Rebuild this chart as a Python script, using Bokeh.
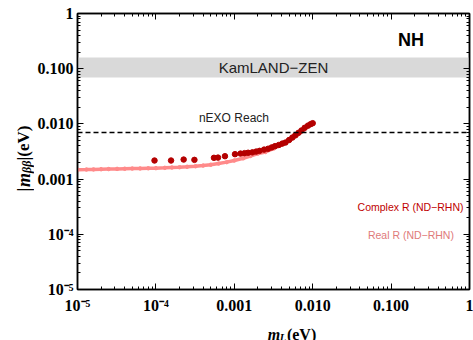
import math
from bokeh.plotting import figure
from bokeh.layouts import row, column
from bokeh.models import (Span, Label, LogAxis, FixedTicker, CustomJSTickFormatter,
                          Range1d)
from bokeh.embed import file_html
from bokeh.resources import INLINE

# ---------------- data ----------------
x_ticks = [1e-5, 1e-4, 1e-3, 1e-2, 1e-1, 1.0]
x_tick_labels = ["10\u207b\u2075", "10\u207b\u2074", "0.001", "0.010", "0.100", "1"]
y_ticks = [1e-5, 1e-4, 1e-3, 1e-2, 1e-1, 1.0]
y_tick_labels = ["10\u207b\u2075", "10\u207b\u2074", "0.001", "0.010", "0.100", "1"]

kamland_low = 0.069
kamland_high = 0.16
nexo_reach = 0.007

# Real R (ND-RHN): light curve
real_m = [1.0e-5, 1.3e-5, 1.6e-5, 2.0e-5, 2.5e-5, 3.2e-5, 4.0e-5, 5.0e-5, 6.3e-5, 8.0e-5,
          1.0e-4, 1.3e-4, 1.6e-4, 2.0e-4, 2.5e-4, 3.2e-4, 4.0e-4, 5.0e-4, 6.3e-4, 8.0e-4,
          1.0e-3, 1.3e-3, 1.6e-3, 2.0e-3, 2.5e-3, 3.2e-3, 4.0e-3, 5.0e-3, 6.3e-3, 7.9e-3]
real_mbb = [0.00148, 0.00149, 0.00150, 0.00151, 0.00152, 0.00153, 0.00154, 0.00155, 0.00156, 0.00157,
            0.00158, 0.00160, 0.00162, 0.00164, 0.00167, 0.00171, 0.00176, 0.00182, 0.00191, 0.00203,
            0.00217, 0.00238, 0.00262, 0.00290, 0.00310, 0.00360, 0.00420, 0.00500, 0.00620, 0.00800]

# Complex R (ND-RHN): dark points
complex_m = [9.6e-5, 1.56e-4, 2.26e-4, 3.1e-4, 5.5e-4, 6.2e-4, 7.6e-4, 1.02e-3, 1.2e-3, 1.35e-3,
             1.5e-3, 1.7e-3, 1.9e-3, 2.1e-3, 2.4e-3, 2.7e-3, 3.0e-3, 3.3e-3, 3.7e-3, 4.1e-3,
             4.5e-3, 5.0e-3, 5.5e-3, 6.0e-3, 6.6e-3, 7.2e-3, 7.9e-3, 8.7e-3, 9.4e-3, 1.0e-2]
complex_mbb = [0.00217, 0.00217, 0.00226, 0.00223, 0.00243, 0.00245, 0.00260, 0.00283, 0.00290, 0.00295,
               0.00300, 0.00305, 0.00315, 0.00325, 0.00342, 0.00355, 0.00375, 0.00395, 0.00415, 0.00440,
               0.00460, 0.00510, 0.00565, 0.00620, 0.00690, 0.00760, 0.00850, 0.00930, 0.00990, 0.01030]

DARK = "#b40000"
LIGHT = "#ff8a8a"
SERIF = "Liberation Serif"
SANS = "Liberation Sans"

p = figure(width=439, height=316, x_axis_type="log", y_axis_type="log",
           x_range=Range1d(1e-5, 1), y_range=Range1d(1e-5, 1),
           output_backend="svg", toolbar_location=None,
           min_border_left=40, min_border_right=4, min_border_top=13, min_border_bottom=26)
p.background_fill_color = "white"
p.border_fill_color = "white"
p.grid.visible = False
p.outline_line_color = "black"
p.outline_line_width = 1.5

minor = [k * 10.0 ** d for d in range(-5, 0) for k in range(2, 10)]

fmt_js = """
let best = 0, d = Infinity;
for (let i = 0; i < tvals.length; i++) {
  const e = Math.abs(Math.log10(tvals[i]) - Math.log10(tick));
  if (e < d) { d = e; best = i; }
}
return tlabels[best];
"""

def style_axis(ax, ticks, labels, show):
    ax.ticker = FixedTicker(ticks=ticks, minor_ticks=minor)
    ax.axis_line_color = "black"
    ax.axis_line_width = 1.5
    ax.major_tick_in = 6
    ax.major_tick_out = 0
    ax.minor_tick_in = 3
    ax.minor_tick_out = 0
    ax.major_tick_line_color = "black"
    ax.minor_tick_line_color = "black"
    ax.major_label_text_font = SERIF
    ax.major_label_text_font_style = "bold"
    ax.major_label_text_color = "black"
    if show:
        ax.formatter = CustomJSTickFormatter(args=dict(tvals=ticks, tlabels=labels), code=fmt_js)
        ax.major_label_text_font_size = "16px"
    else:
        ax.formatter = CustomJSTickFormatter(code="return '';")
        ax.major_label_text_font_size = "1px"
        ax.major_label_standoff = 0

style_axis(p.xaxis[0], x_ticks, x_tick_labels, True)
style_axis(p.yaxis[0], y_ticks, y_tick_labels, True)
p.xaxis[0].major_label_standoff = 7
p.yaxis[0].major_label_standoff = 4

top = LogAxis()
right = LogAxis()
style_axis(top, x_ticks, x_tick_labels, False)
style_axis(right, y_ticks, y_tick_labels, False)
p.add_layout(top, "above")
p.add_layout(right, "right")

# KamLAND-Zen band
p.quad(left=[x_ticks[0]], right=[x_ticks[-1]], bottom=[kamland_low], top=[kamland_high],
       fill_color="#d9d9d9", line_color=None)

# nEXO reach
p.add_layout(Span(location=nexo_reach, dimension="width", line_color="black",
                  line_width=1.6, line_dash="5 3"))

# Real R curve
p.line(real_m, real_mbb, line_color=LIGHT, line_width=3.5)
p.scatter(real_m, real_mbb, size=3.5, color=LIGHT)
# Complex R points
p.scatter(complex_m, complex_mbb, size=5.5, color=DARK)

def lab(fig, x, y, text, size, color="black", font=SANS, style="normal", align="center",
        baseline="middle", angle=0.0):
    fig.add_layout(Label(x=x, y=y, text=text, text_font_size=size, text_color=color,
                         text_font=font, text_font_style=style, text_align=align,
                         text_baseline=baseline, angle=angle))

lab(p, 0.179, 0.33, "NH", "18px", style="bold")
lab(p, 0.00316, 0.104, "KamLAND\u2212ZEN", "15px", color="#222222")
lab(p, 0.00099, 0.0127, "nEXO Reach", "12px", color="#222222")
lab(p, 0.177, 3.15e-4, "Complex R (ND\u2212RHN)", "10.5px", color="#c00000")
lab(p, 0.179, 9.8e-5, "Real R (ND\u2212RHN)", "10.5px", color="#e07a7a")


def blank(w, h):
    f = figure(width=w, height=h, x_range=Range1d(0, w), y_range=Range1d(0, h),
               output_backend="svg", toolbar_location=None,
               x_axis_location=None, y_axis_location=None,
               min_border=0, min_border_left=0, min_border_right=0,
               min_border_top=0, min_border_bottom=0)
    f.grid.visible = False
    f.outline_line_color = None
    f.background_fill_color = "white"
    f.border_fill_color = "white"
    return f

# x axis label: m_L (eV)
xl = blank(439, 24)
lab(xl, 213, 6, "m", "16px", font=SERIF, style="bold italic", align="left", baseline="alphabetic")
lab(xl, 226.5, 3.5, "L", "10.5px", font=SERIF, style="bold italic", align="left", baseline="alphabetic")
lab(xl, 234.5, 6, "(eV)", "16px", font=SERIF, style="bold", align="left", baseline="alphabetic")

# y axis label: |m_bb| (eV), rotated
yl = blank(34, 340)
ang = math.pi / 2
lab(yl, 23, 149, "|", "18px", font=SERIF, style="bold", align="left", baseline="alphabetic", angle=ang)
lab(yl, 23, 153.5, "m", "18px", font=SERIF, style="bold italic", align="left", baseline="alphabetic", angle=ang)
lab(yl, 26, 167.5, "\u03b2\u03b2", "12px", font=SERIF, style="bold italic", align="left", baseline="alphabetic", angle=ang)
lab(yl, 23, 180, "|(eV)", "17px", font=SERIF, style="bold", align="left", baseline="alphabetic", angle=ang)

layout = row(yl, column(p, xl, spacing=0), spacing=0)
open("out.html", "w").write(file_html(layout, INLINE))
